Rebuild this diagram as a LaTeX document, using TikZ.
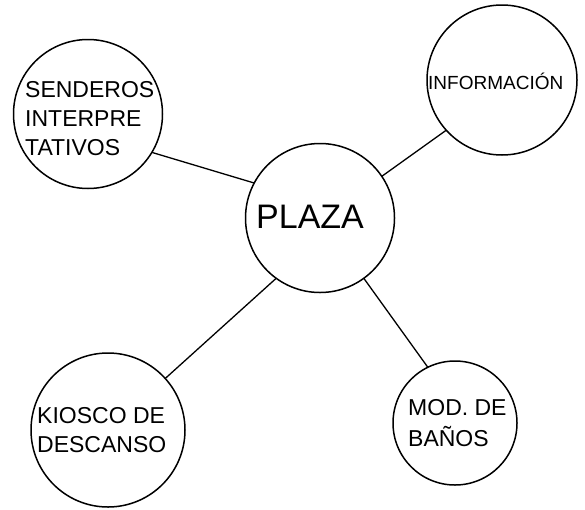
\documentclass[tikz,border=0pt]{standalone}
\usepackage{fontspec}
\setmainfont{Liberation Sans}
\usepackage{tikz}

\begin{document}
\begin{tikzpicture}[x=1pt, y=-1pt,
  ring/.style={circle, draw, line width=1.5pt, inner sep=0pt, outer sep=0pt},
  txt/.style={align=left, inner sep=0pt, font=\fontsize{23}{29}\selectfont},
  link/.style={line width=1.3pt}]
  \useasboundingbox (0,0) rectangle (585,509);
  % circles
  \node[ring, minimum size=149pt] (plaza) at (320,218) {};
  \node[ring, minimum size=149pt] (sen) at (88,114) {};
  \node[ring, minimum size=150pt] (info) at (502,80) {};
  \node[ring, minimum size=154pt] (kiosco) at (108,430) {};
  \node[ring, minimum size=124pt] (banos) at (455,423) {};
  % texts
  \node[txt, anchor=base west, font=\fontsize{34}{40}\selectfont] (plaza-t) at (256,228) {PLAZA};
  \node[txt, anchor=west] (sen-t) at (25,118.5) {SENDEROS\\INTERPRE\\TATIVOS};
  \node[txt, anchor=base west, font=\fontsize{19}{23}\selectfont] (info-t) at (428,89) {INFORMACIÓN};
  \node[txt, anchor=west] (kiosco-t) at (37,430) {KIOSCO DE\\DESCANSO};
  \node[txt, anchor=west, font=\fontsize{23}{31}\selectfont] (banos-t) at (408,423) {MOD. DE\\BAÑOS};
  % links
  \draw[link] (sen.-31) -- (plaza.152);
  \draw[link] (plaza.34) -- (info.-138);
  \draw[link] (plaza.-126) -- (kiosco.42);
  \draw[link] (plaza.-54) -- (banos.116);
\end{tikzpicture}
\end{document}
